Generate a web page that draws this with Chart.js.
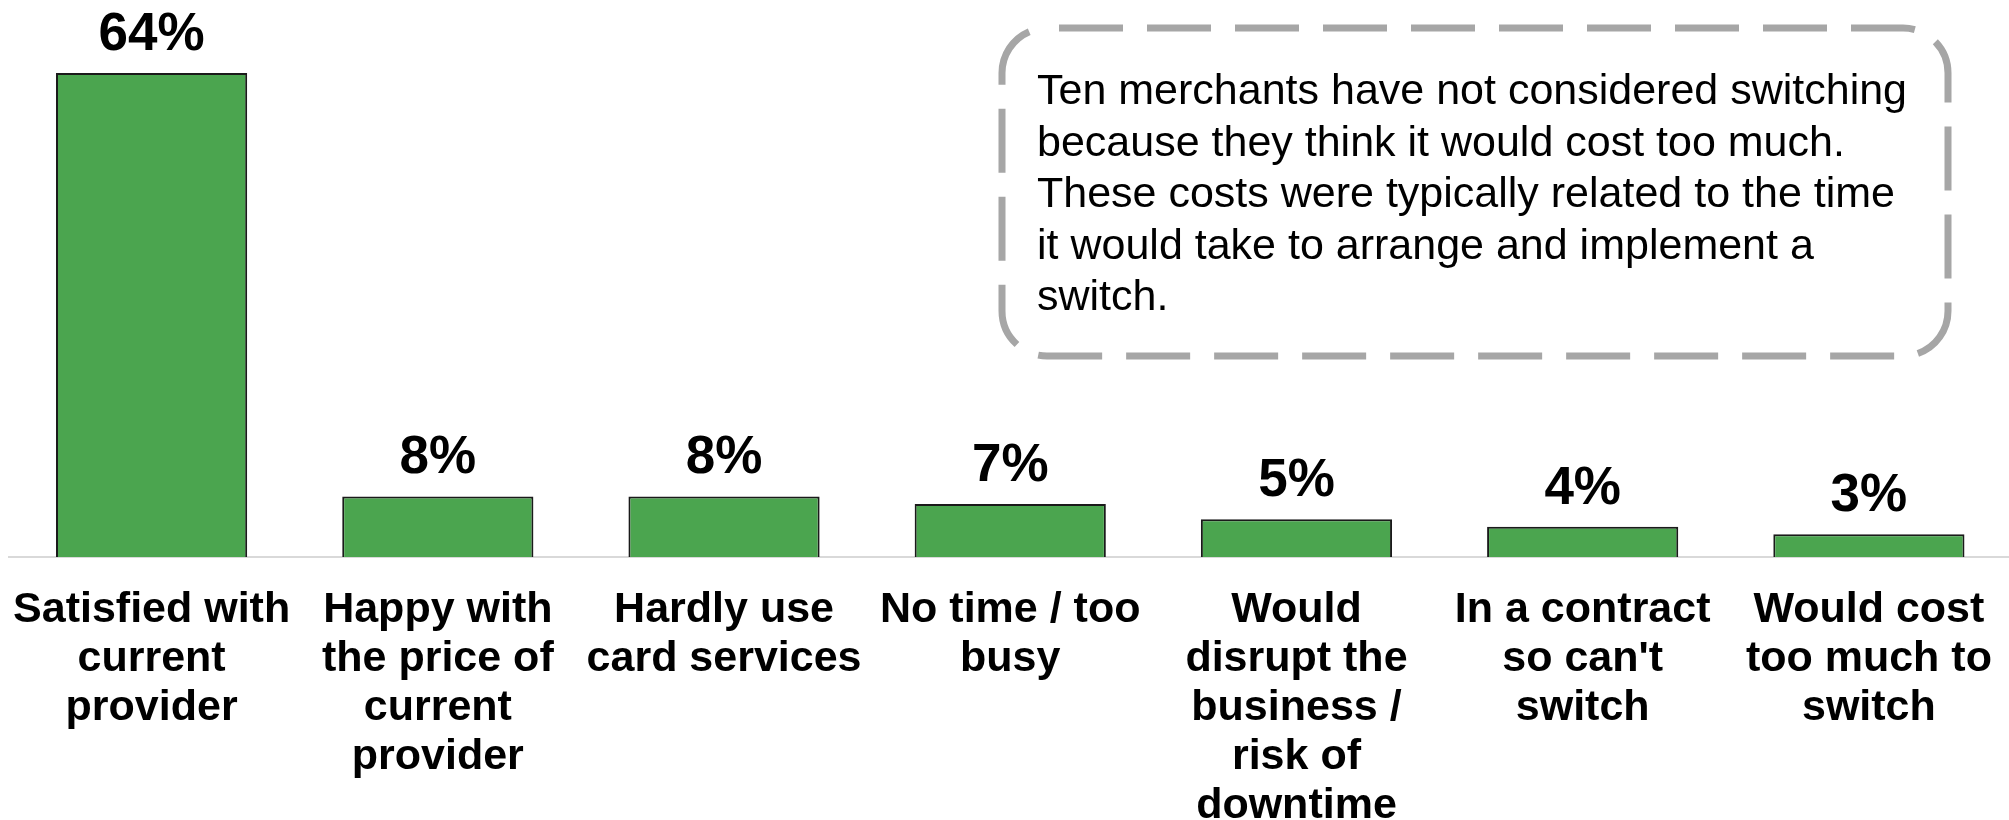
<!DOCTYPE html>
<html>
<head>
<meta charset="utf-8">
<script src="https://cdn.jsdelivr.net/npm/chart.js@4"></script>
<style>
  html, body { margin: 0; padding: 0; background: #ffffff; overflow: hidden; }
  #wrap { width: 2012px; height: 820px; position: relative; }
</style>
</head>
<body>
<div id="wrap"><canvas id="chart"></canvas></div>
<script>
// Reasons merchants gave for not considering a switch of card provider
const categories = [
  ["Satisfied with", "current", "provider"],
  ["Happy with", "the price of", "current", "provider"],
  ["Hardly use", "card services"],
  ["No time / too", "busy"],
  ["Would", "disrupt the", "business /", "risk of", "downtime"],
  ["In a contract", "so can't", "switch"],
  ["Would cost", "too much to", "switch"]
];
const shares = [64, 8, 8, 7, 5, 4, 3];

const noteLines = [
  "Ten merchants have not considered switching",
  "because they think it would cost too much.",
  "These costs were typically related to the time",
  "it would take to arrange and implement a",
  "switch."
];

const FONT = '"Liberation Sans", Arial, Helvetica, sans-serif';

// Percentage labels above each bar
const valueLabels = {
  id: 'valueLabels',
  afterDatasetsDraw(chart) {
    const ctx = chart.ctx;
    const meta = chart.getDatasetMeta(0);
    ctx.save();
    ctx.font = 'bold 53px ' + FONT;
    ctx.fillStyle = '#000000';
    ctx.textAlign = 'center';
    ctx.textBaseline = 'alphabetic';
    meta.data.forEach((bar, i) => {
      ctx.fillText(shares[i] + '%', bar.x, bar.y - 23);
    });
    ctx.restore();
  }
};

// Dashed rounded call-out box with the explanatory note
const noteBox = {
  id: 'noteBox',
  afterDraw(chart) {
    const ctx = chart.ctx;
    const x0 = 1002, y0 = 28, x1 = 1948, y1 = 356, r = 45;
    ctx.save();
    ctx.strokeStyle = '#a6a6a6';
    ctx.lineWidth = 7;
    ctx.setLineDash([64, 24]);
    ctx.lineDashOffset = -12;
    ctx.beginPath();
    ctx.moveTo(x0 + r, y0);
    ctx.lineTo(x1 - r, y0);
    ctx.arcTo(x1, y0, x1, y0 + r, r);
    ctx.lineTo(x1, y1 - r);
    ctx.arcTo(x1, y1, x1 - r, y1, r);
    ctx.lineTo(x0 + r, y1);
    ctx.arcTo(x0, y1, x0, y1 - r, r);
    ctx.lineTo(x0, y0 + r);
    ctx.arcTo(x0, y0, x0 + r, y0, r);
    ctx.stroke();
    ctx.setLineDash([]);
    ctx.font = '43px ' + FONT;
    ctx.fillStyle = '#000000';
    ctx.textAlign = 'left';
    ctx.textBaseline = 'alphabetic';
    noteLines.forEach((line, i) => {
      ctx.fillText(line, 1037, 104 + i * 51.5);
    });
    ctx.restore();
  }
};

new Chart(document.getElementById('chart'), {
  type: 'bar',
  data: {
    labels: categories,
    datasets: [{
      data: shares,
      backgroundColor: '#4ba54f',
      borderColor: '#1a1a1a',
      borderWidth: 2,
      borderSkipped: 'bottom',
      barPercentage: 0.668,
      categoryPercentage: 1.0
    }]
  },
  options: {
    responsive: true,
    maintainAspectRatio: false,
    animation: false,
    devicePixelRatio: 1,
    layout: { padding: { top: 27.6, left: 8.5, right: 0, bottom: 0 } },
    plugins: {
      legend: { display: false },
      tooltip: { enabled: false }
    },
    scales: {
      x: {
        grid: { display: false, drawTicks: false },
        border: { display: true, color: '#d9d9d9', width: 2 },
        ticks: {
          autoSkip: false,
          maxRotation: 0,
          minRotation: 0,
          padding: 29,
          color: '#000000',
          font: { family: FONT, size: 43, weight: 'bold', lineHeight: 1.14 }
        },
        afterFit(scale) {
          scale.height = 263;
          scale.paddingLeft = 0;
          scale.paddingRight = 0;
        }
      },
      y: {
        display: false,
        min: 0,
        max: 70
      }
    }
  },
  plugins: [valueLabels, noteBox]
});
</script>
</body>
</html>
